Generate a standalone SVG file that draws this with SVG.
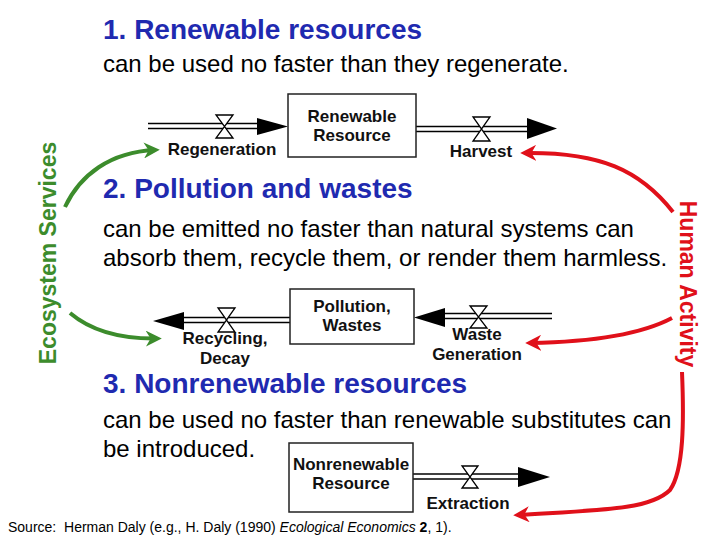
<svg xmlns="http://www.w3.org/2000/svg" width="720" height="540" viewBox="0 0 720 540">
<style>
text{font-family:"Liberation Sans",Arial,sans-serif}
.h{font-size:28px;font-weight:bold;fill:#1f2ab0}
.b{font-size:24px;fill:#000}
.lbl{font-size:17px;font-weight:bold;fill:#111;text-anchor:middle}
.box{fill:#fff;stroke:#222;stroke-width:1.5}
.pipe{stroke:#000;stroke-width:1.5;fill:none}
.valve{fill:#fff;stroke:#000;stroke-width:1.3}
.head{fill:#000}
.g{stroke:#3c8c2c;stroke-width:4;fill:none}
.r{stroke:#e0101a;stroke-width:4;fill:none}
</style>
<defs>
<marker id="ag" viewBox="0 0 10 10" refX="7" refY="5" markerWidth="4" markerHeight="4" orient="auto"><path d="M0,0 L10,5 L0,10 L3,5 Z" fill="#3c8c2c"/></marker>
<marker id="ar" viewBox="0 0 10 10" refX="7" refY="5" markerWidth="4" markerHeight="4" orient="auto"><path d="M0,0 L10,5 L0,10 L3,5 Z" fill="#e0101a"/></marker>
</defs>
<rect width="720" height="540" fill="#fff"/>

<g id="headings">
<text class="h" x="103" y="39">1. Renewable resources</text>
<text class="b" x="103" y="72">can be used no faster than they regenerate.</text>
<text class="h" x="103" y="198">2. Pollution and wastes</text>
<text class="b" x="103" y="237">can be emitted no faster than natural systems can</text>
<text class="b" x="103" y="266">absorb them, recycle them, or render them harmless.</text>
<text class="h" x="103" y="393">3. Nonrenewable resources</text>
<text class="b" x="103" y="428">can be used no faster than renewable substitutes can</text>
<text class="b" x="103" y="457">be introduced.</text>
</g>

<g id="side-labels">
<text transform="translate(56,253) rotate(-90)" text-anchor="middle" font-size="23" font-weight="bold" fill="#3c8c2c">Ecosystem Services</text>
<text transform="translate(680,284) rotate(90)" text-anchor="middle" font-size="23" font-weight="bold" fill="#e0101a">Human Activity</text>
</g>

<g id="connectors">
<!-- Regeneration inflow -->
<line class="pipe" x1="148" y1="123.5" x2="258" y2="123.5"/>
<line class="pipe" x1="148" y1="128.5" x2="258" y2="128.5"/>
<polygon class="head" points="257,118 288,126.5 257,135"/>
<!-- Harvest outflow -->
<line class="pipe" x1="416" y1="126.5" x2="528" y2="126.5"/>
<line class="pipe" x1="416" y1="131.5" x2="528" y2="131.5"/>
<polygon class="head" points="527,118 557,128.5 527,139"/>
<!-- Recycling outflow -->
<line class="pipe" x1="182" y1="317.5" x2="290" y2="317.5"/>
<line class="pipe" x1="182" y1="322.5" x2="290" y2="322.5"/>
<polygon class="head" points="184,312 153,321 184,330"/>
<!-- Waste generation inflow -->
<line class="pipe" x1="444" y1="313.5" x2="552" y2="313.5"/>
<line class="pipe" x1="444" y1="318.5" x2="552" y2="318.5"/>
<polygon class="head" points="445,308 414,317.5 445,327"/>
<!-- Extraction outflow -->
<line class="pipe" x1="413" y1="474" x2="519" y2="474"/>
<line class="pipe" x1="413" y1="479" x2="519" y2="479"/>
<polygon class="head" points="518,467 550,477 518,487"/>

<!-- valves -->
<path class="valve" d="M216,115 H233 L216,138 H233 Z"/>
<path class="valve" d="M473,117 H490 L473,141 H490 Z"/>
<path class="valve" d="M218,308 H235 L218,332 H235 Z"/>
<path class="valve" d="M470,306 H487 L470,328 H487 Z"/>
<path class="valve" d="M462,466 H478 L462,488 H478 Z"/>

<!-- ecosystem services arrows -->
<path class="g" d="M65,207 C80,175 110,152 155,150" marker-end="url(#ag)"/>
<path class="g" d="M70,313 C90,330 120,339 157,338.5" marker-end="url(#ag)"/>
<!-- human activity arrows -->
<path class="r" d="M673,212 C640,170 600,152 525,153" marker-end="url(#ar)"/>
<path class="r" d="M672,318 C640,335 590,342 530,343" marker-end="url(#ar)"/>
<path class="r" d="M682,372 C684,420 684,470 670,490 C650,510 600,510 518,515" marker-end="url(#ar)"/>
</g>

<g id="renewable-resource">
<rect class="box" x="288" y="94" width="128" height="63"/>
<text class="lbl" x="352" y="122">Renewable</text>
<text class="lbl" x="352" y="141">Resource</text>
</g>
<g id="regeneration"><text class="lbl" x="222" y="155">Regeneration</text></g>
<g id="harvest"><text class="lbl" x="481" y="157">Harvest</text></g>

<g id="pollution-wastes">
<rect class="box" x="290" y="289" width="124" height="55"/>
<text class="lbl" x="352" y="312">Pollution,</text>
<text class="lbl" x="352" y="331">Wastes</text>
</g>
<g id="recycling-decay">
<text class="lbl" x="225" y="344">Recycling,</text>
<text class="lbl" x="225" y="364">Decay</text>
</g>
<g id="waste-generation">
<text class="lbl" x="477" y="340">Waste</text>
<text class="lbl" x="477" y="360">Generation</text>
</g>

<g id="nonrenewable-resource">
<rect class="box" x="289" y="443" width="124" height="69"/>
<text class="lbl" x="351" y="470">Nonrenewable</text>
<text class="lbl" x="351" y="489">Resource</text>
</g>
<g id="extraction"><text class="lbl" x="468" y="509">Extraction</text></g>

<text x="8" y="532" font-size="14" fill="#000" style="white-space:pre">Source:  Herman Daly (e.g., H. Daly (1990) <tspan font-style="italic">Ecological Economics</tspan> <tspan font-weight="bold">2</tspan>, 1).</text>
</svg>
